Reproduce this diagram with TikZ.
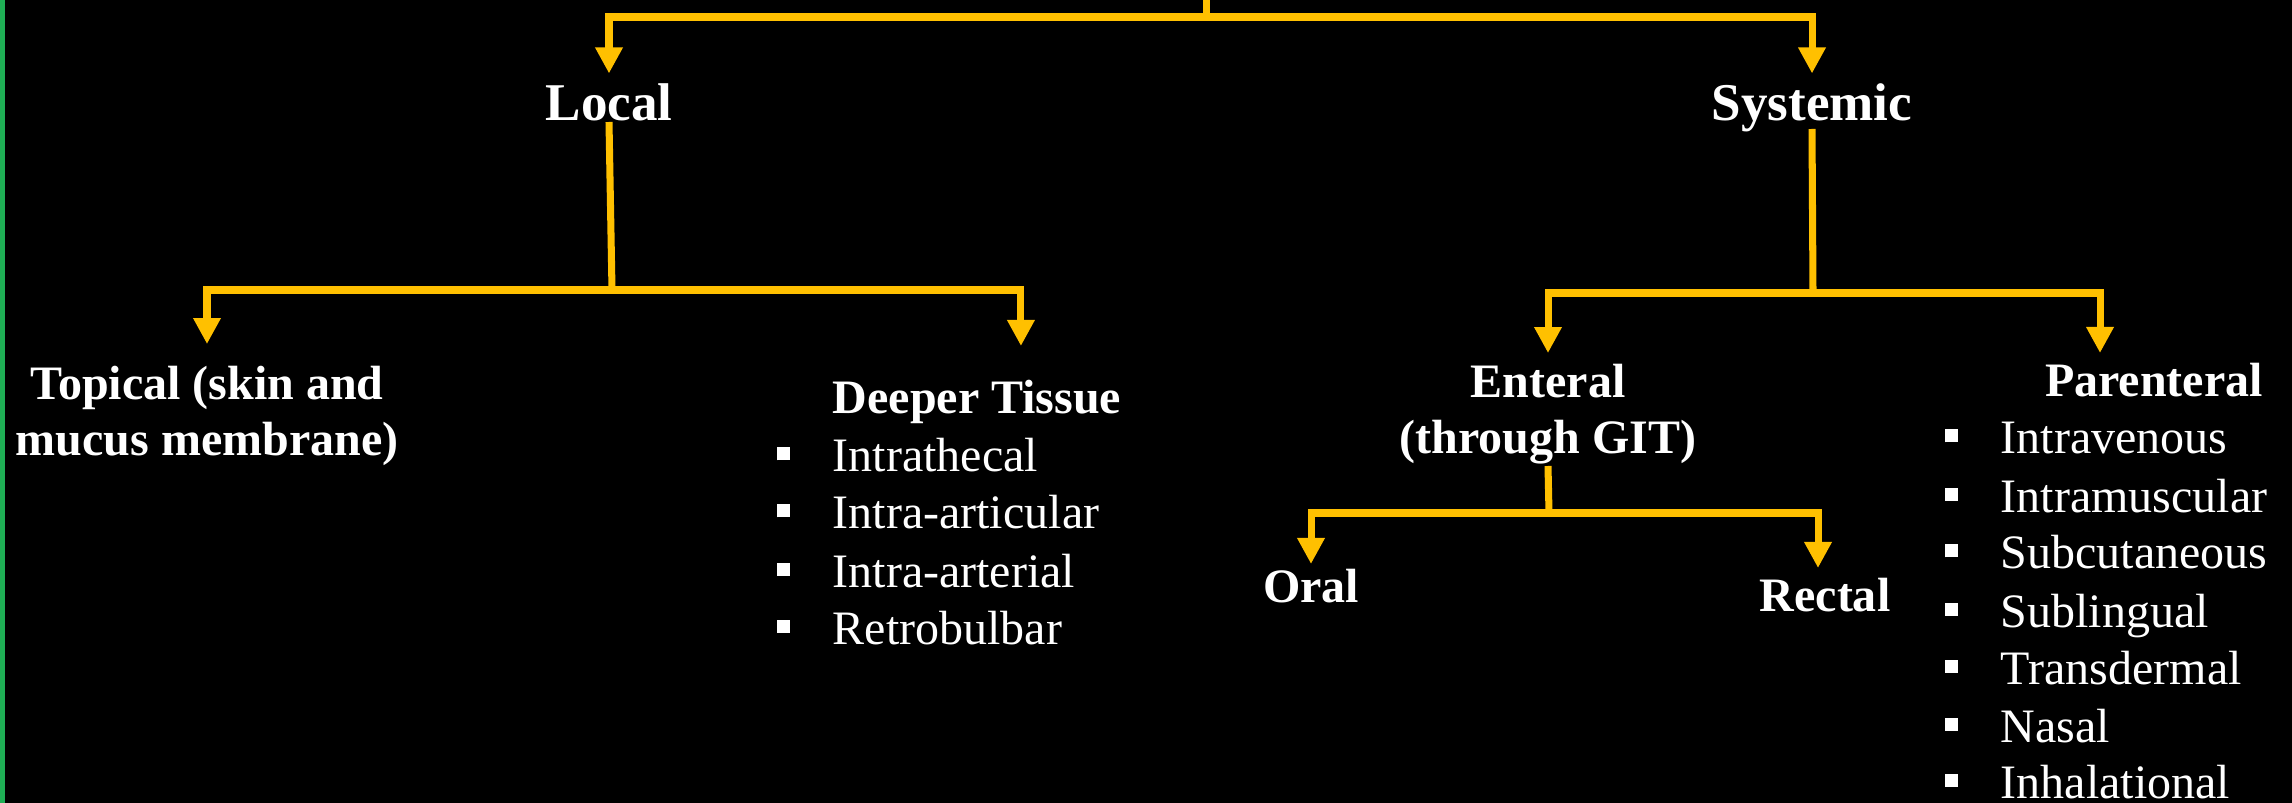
\documentclass[tikz,border=0pt]{standalone}
\usepackage{fontspec}
\setmainfont{Liberation Serif}
\usetikzlibrary{arrows.meta}
\definecolor{route-gold}{HTML}{FFC000}
\definecolor{edge-green}{HTML}{1FAF55}
\newcommand{\sqb}{\makebox[0.555cm][l]{\rule[0.115cm]{0.13cm}{0.13cm}}}

\begin{document}
\begin{tikzpicture}[
    every node/.style={text=white, inner sep=0.1cm},
    head/.style={font=\fontsize{15.1pt}{18pt}\selectfont\bfseries, anchor=base},
    kind/.style={font=\fontsize{13.66pt}{16.2pt}\selectfont\bfseries, anchor=base, align=center},
    item/.style={font=\fontsize{13.66pt}{16.2pt}\selectfont, anchor=base west, inner sep=0pt},
    link/.style={route-gold, line width=2pt},
    arr/.style={link, -{Triangle[length=0.26cm, width=0.26cm]}}]
  % background and side stripe
  \fill[black] (0,0) rectangle (22.92,-8.03);
  \fill[edge-green] (0,0) rectangle (0.05,-8.03);
  \useasboundingbox (0,0) rectangle (22.92,-8.03);

  % first level
  \node[head] (local) at (6.09,-1.21) {Local};
  \node[head] (systemic) at (18.12,-1.21) {Systemic};

  % local branch
  \node[kind] (topical) at (2.07,-4.56) {Topical (skin and\\mucus membrane)};
  \node[kind, anchor=base west, inner sep=0pt] (deeper) at (8.32,-4.14) {Deeper Tissue};
  \node[item] (thecal) at (7.765,-4.72) {\sqb Intrathecal};
  \node[item] (articular) at (7.765,-5.29) {\sqb Intra-articular};
  \node[item] (arterial) at (7.765,-5.87) {\sqb Intra-arterial};
  \node[item] (bulbar) at (7.765,-6.44) {\sqb Retrobulbar};

  % systemic branch
  \node[kind] (enteral) at (15.48,-4.54) {Enteral\\(through GIT)};
  \node[kind] (parenteral) at (21.54,-3.97) {Parenteral};
  \node[item] (venous) at (19.445,-4.54) {\sqb Intravenous};
  \node[item] (muscular) at (19.445,-5.12) {\sqb Intramuscular};
  \node[item] (cutaneous) at (19.445,-5.69) {\sqb Subcutaneous};
  \node[item] (lingual) at (19.445,-6.27) {\sqb Sublingual};
  \node[item] (dermal) at (19.445,-6.84) {\sqb Transdermal};
  \node[item] (nasal) at (19.445,-7.42) {\sqb Nasal};
  \node[item] (inhal) at (19.445,-7.98) {\sqb Inhalational};

  % enteral branch
  \node[kind] (oral) at (13.11,-6.02) {Oral};
  \node[kind] (rectal) at (18.25,-6.12) {Rectal};

  % connectors
  \coordinate (root) at (12.06,0);
  \coordinate (rootbar) at (12.06,-0.17);
  \coordinate (localbar) at (6.12,-2.90);
  \coordinate (sysbar) at (18.13,-2.93);
  \coordinate (entbar) at (15.49,-5.13);
  \draw[link] (root) -- (rootbar);
  \draw[arr] (rootbar) -| (local);
  \draw[arr] (rootbar) -| (systemic);
  \draw[link] ([yshift=-0.01cm]local.base) -- (localbar);
  \draw[arr] (localbar) -| ([yshift=0.11cm]topical.north);
  \draw[arr] (localbar) -| ([xshift=0.44cm, yshift=0.34cm]deeper.north);
  \draw[link] ([yshift=-0.08cm]systemic.base) -- (sysbar);
  \draw[arr] (sysbar) -| (enteral);
  \draw[arr] (sysbar) -| ([xshift=-0.54cm]parenteral.north);
  \draw[link] ([yshift=-0.12cm]enteral.base) -- (entbar);
  \draw[arr] (entbar) -| ([yshift=-0.06cm]oral.north);
  \draw[arr] (entbar) -| ([xshift=-0.07cm]rectal.north);
\end{tikzpicture}
\end{document}
